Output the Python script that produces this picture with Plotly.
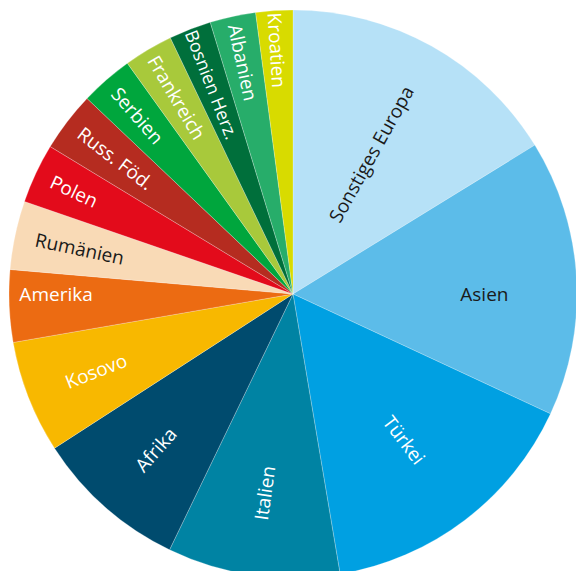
import plotly.graph_objects as go

labels = ["Sonstiges Europa", "Asien", "Türkei", "Italien", "Afrika", "Kosovo",
          "Amerika", "Rumänien", "Polen", "Russ. Föd.", "Serbien", "Frankreich",
          "Bosnien Herz.", "Albanien", "Kroatien"]
values = [16.2, 15.7, 15.4, 9.8, 8.7, 6.4, 4.1, 3.9, 3.4, 3.4, 3.0, 2.8, 2.4, 2.6, 2.1]
colors = ["#b6e1f7", "#5cbce9", "#00a0e2", "#0083a3", "#004b6e", "#f8b800",
          "#ec6b12", "#f9dab6", "#e30b1b", "#b52c20", "#00a63d", "#a8c93b",
          "#006f3b", "#27ad6a", "#d8db00"]
text_colors = ["#1a1a1a", "#1a1a1a", "white", "white", "white", "white",
               "white", "#1a1a1a", "white", "white", "white", "white",
               "white", "white", "white"]

W, H = 600, 600
fig = go.Figure(go.Pie(
    labels=labels, values=values, sort=False, direction="clockwise", rotation=0,
    marker=dict(colors=colors, line=dict(color="rgba(255,255,255,0.4)", width=0.6)),
    textinfo="label", textposition="inside", insidetextorientation="radial",
    textfont=dict(family="Open Sans", size=19, color=text_colors),
    domain=dict(x=[9 / W, 577 / W], y=[(H - 578) / H, (H - 10) / H]),
    showlegend=False,
))
fig.update_layout(width=W, height=H, margin=dict(l=0, r=0, t=0, b=0),
                  paper_bgcolor="white", plot_bgcolor="white")
fig.write_html("out.html", config={"displayModeBar": False},
               post_script="document.body.style.margin='0';document.body.style.overflow='hidden';document.documentElement.style.overflow='hidden';")
